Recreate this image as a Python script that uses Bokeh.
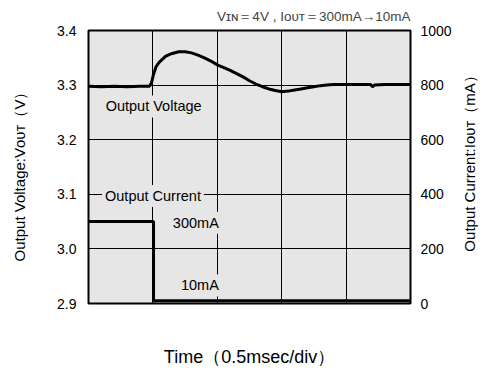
import math
from bokeh.plotting import figure
from bokeh.layouts import row
from bokeh.models import Range1d, LinearAxis, FixedTicker, Label, CustomJSTickFormatter
from bokeh.core.properties import value
from bokeh.embed import file_html
from bokeh.resources import INLINE

# ---- data ----
volt_t = [0, 0.2, 0.4, 0.6, 0.8, 0.95, 0.98, 1.01, 1.05, 1.1, 1.2, 1.3, 1.4, 1.5, 1.6,
          1.7, 1.8, 1.9, 2.0, 2.1, 2.2, 2.3, 2.4, 2.5, 2.6, 2.7, 2.8, 2.9, 3.0, 3.1,
          3.2, 3.3, 3.4, 3.5, 3.6, 3.7, 3.8, 4.0, 4.2, 4.38, 4.41, 4.44, 4.6, 4.8, 5.0]
volt_v = [3.298, 3.297, 3.298, 3.297, 3.298, 3.298, 3.305, 3.320, 3.334, 3.342, 3.353,
          3.358, 3.361, 3.361, 3.359, 3.355, 3.350, 3.344, 3.337, 3.332, 3.327, 3.321,
          3.315, 3.308, 3.302, 3.297, 3.293, 3.290, 3.288, 3.289, 3.291, 3.293, 3.295,
          3.297, 3.299, 3.300, 3.301, 3.301, 3.301, 3.301, 3.297, 3.300, 3.301, 3.301, 3.301]
cur_t = [0, 1.01, 1.01, 5.0]
cur_i = [300, 300, 10, 10]
volt_ticks = [2.9, 3.0, 3.1, 3.2, 3.3, 3.4]
cur_ticks = [0, 200, 400, 600, 800, 1000]
x_grid = [1, 2, 3, 4]
y_grid = [3.0, 3.1, 3.2, 3.3]

BG = "#e6e6e6"
FONT = "Liberation Sans"

yr = Range1d(2.9, 3.4)
p = figure(width=425, height=370, output_backend="svg", toolbar_location=None,
           x_range=Range1d(0, 5), y_range=yr,
           min_border_left=58, min_border_right=45, min_border_top=29, min_border_bottom=67,
           x_axis_location=None, y_axis_location=None)
p.extra_y_ranges = {"cur": Range1d(0, 1000)}
p.background_fill_color = BG
p.border_fill_color = "white"
p.outline_line_color = "black"
p.outline_line_width = 2

p.title.text = "V\u026a\u0274\uff1d4V , I\u1d0f\u1d1c\u1d1b\uff1d300mA\u219210mA"
p.title.align = "right"
p.title.text_font = FONT
p.title.text_font_size = "13.5px"
p.title.text_font_style = "normal"
p.title.standoff = 13

def style_axis(ax, standoff, lab_standoff=0, lab_size="15px"):
    ax.major_tick_line_color = None
    ax.minor_tick_line_color = None
    ax.axis_line_color = None
    ax.major_label_text_font = FONT
    ax.major_label_text_font_size = "14px"
    ax.major_label_text_color = "black"
    ax.major_label_standoff = standoff
    ax.axis_label_text_font = FONT
    ax.axis_label_text_font_size = lab_size
    ax.axis_label_text_font_style = "normal"
    ax.axis_label_text_color = "black"
    ax.axis_label_standoff = lab_standoff

left = LinearAxis(ticker=FixedTicker(ticks=volt_ticks),
                  formatter=CustomJSTickFormatter(code="return tick.toFixed(1)"))
style_axis(left, 6)
p.add_layout(left, "left")

right = LinearAxis(y_range_name="cur", ticker=FixedTicker(ticks=cur_ticks))
style_axis(right, 4)
p.add_layout(right, "right")

bottom = LinearAxis(ticker=FixedTicker(ticks=[]), axis_label="Time\uff080.5msec/div\uff09")
style_axis(bottom, 0, 43, "18px")
p.add_layout(bottom, "below")

p.xgrid.ticker = FixedTicker(ticks=x_grid)
p.ygrid.ticker = FixedTicker(ticks=y_grid)
for g in (p.xgrid, p.ygrid):
    g.grid_line_color = "black"
    g.grid_line_width = 1
    g.grid_line_alpha = 1

p.line(volt_t, volt_v, line_color="black", line_width=3)
p.line(cur_t, cur_i, y_range_name="cur", line_color="black", line_width=3)

def lab(x, y, text, align="left", rng="default"):
    p.add_layout(Label(x=x, y=y, text=text, y_range_name=rng, text_align=align,
                       text_baseline="middle", text_font=FONT, text_font_size="14.5px",
                       text_color="black", background_fill_color=BG, padding=3))

lab(0.22, 3.261, "Output Voltage")
lab(0.21, 3.097, "Output Current")
lab(2.07, 3.048, "300mA", align="right")
lab(2.07, 2.933, "10mA", align="right")

def strip(label, x, y):
    s = figure(width=30, height=370, output_backend="svg", toolbar_location=None,
               x_range=Range1d(0, 1), y_range=yr,
               min_border_left=0, min_border_right=0, min_border_top=29, min_border_bottom=67,
               x_axis_location=None, y_axis_location=None)
    s.outline_line_color = None
    s.background_fill_color = "white"
    s.border_fill_color = "white"
    s.xgrid.visible = False
    s.ygrid.visible = False
    s.text(x=[x], y=[y], text=[label], angle=math.pi / 2, text_align="center",
           text_baseline="middle", text_font=value(FONT), text_font_size=value("15px"),
           text_color="black")
    return s

s_left = strip("Output Voltage:V\u1d0f\u1d1c\u1d1b\uff08V\uff09", 0.63, 3.139)
s_right = strip("Output Current:I\u1d0f\u1d1c\u1d1b\uff08mA\uff09", 0.47, 3.163)

layout = row(s_left, p, s_right, spacing=0)
open("out.html", "w").write(file_html(layout, INLINE))
